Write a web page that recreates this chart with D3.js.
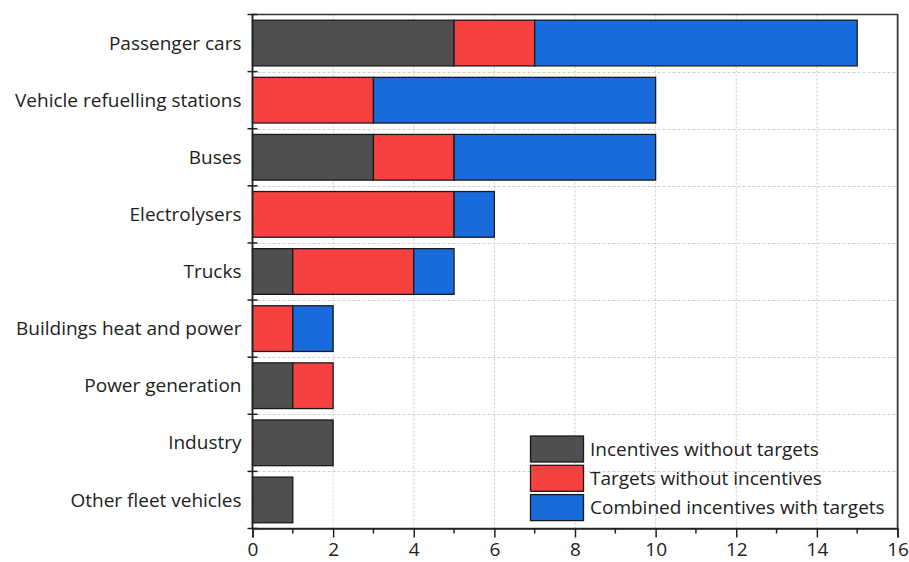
<!DOCTYPE html>
<html><head><meta charset="utf-8">
<script src="https://cdn.jsdelivr.net/npm/d3@7"></script>
<style>body{margin:0;background:#fff}svg{display:block}</style>
</head><body>
<svg id="c" width="909" height="562"></svg>
<script>
const categories = ["Passenger cars","Vehicle refuelling stations","Buses","Electrolysers","Trucks","Buildings heat and power","Power generation","Industry","Other fleet vehicles"];
const incentivesWithoutTargets = [5,0,3,0,1,0,1,2,1];
const targetsWithoutIncentives = [2,3,2,5,3,1,1,0,0];
const combinedIncentivesWithTargets = [8,7,5,1,1,1,0,0,0];
const seriesNames = ["Incentives without targets","Targets without incentives","Combined incentives with targets"];
const xTicks = [0,2,4,6,8,10,12,14,16];
const colors = ["#4f4f4f","#f74141","#196bdb"];

const svg = d3.select("#c");
const L=252.5, R=897.5, T=14.5, B=528.5;
const font = "'Open Sans', sans-serif";
const x = d3.scaleLinear().domain([0,16]).range([L,R]);
const y = d3.scaleBand().domain(categories).range([T,B]).paddingInner(0.2).paddingOuter(0.1);
const step = y.step();

// grid
const g = svg.append("g");
g.selectAll("line.v").data(xTicks.slice(1,-1)).join("line")
 .attr("x1",d=>x(d)).attr("x2",d=>x(d)).attr("y1",T).attr("y2",B)
 .attr("stroke","#c8c8c8").attr("stroke-dasharray","2,2").attr("stroke-width",1);
g.selectAll("line.h").data(categories.slice(1)).join("line")
 .attr("x1",L).attr("x2",R).attr("y1",d=>Math.round(y(d)-step*0.1)+0.5).attr("y2",d=>Math.round(y(d)-step*0.1)+0.5)
 .attr("stroke","#d0d0d0").attr("stroke-dasharray","3,2").attr("stroke-width",1);

// stacked data
const rows = categories.map((c,i)=>({cat:c, s0:incentivesWithoutTargets[i], s1:targetsWithoutIncentives[i], s2:combinedIncentivesWithTargets[i]}));
const stack = d3.stack().keys(["s0","s1","s2"])(rows);
stack.forEach((layer,k)=>{
  svg.append("g").selectAll("rect").data(layer.filter(d=>d[1]>d[0])).join("rect")
   .attr("x",d=>x(d[0])).attr("width",d=>x(d[1])-x(d[0]))
   .attr("y",d=>y(d.data.cat)).attr("height",y.bandwidth())
   .attr("fill",colors[k]).attr("stroke","#1a1a1a").attr("stroke-width",1.3);
});

// frame
svg.append("rect").attr("x",L).attr("y",T).attr("width",R-L).attr("height",B-T)
 .attr("fill","none").attr("stroke","#333").attr("stroke-width",1.5);
svg.append("line").attr("x1",R+1).attr("x2",R+1).attr("y1",T).attr("y2",B).attr("stroke","#999").attr("stroke-width",1);

// x axis
const xa = svg.append("g").attr("transform",`translate(0,${B})`)
 .call(d3.axisBottom(x).tickValues(xTicks).tickSize(9).tickPadding(5).tickFormat(d3.format("d")));
xa.select(".domain").attr("stroke","#222").attr("stroke-width",1.5);
xa.selectAll(".tick line").attr("stroke","#222").attr("stroke-width",1.5);
xa.selectAll("text").attr("font-family",font).attr("font-size",19).attr("fill","#222");
const minor = d3.range(1,16,2);
svg.append("g").selectAll("line").data(minor).join("line")
 .attr("x1",d=>x(d)).attr("x2",d=>x(d)).attr("y1",B).attr("y2",B+5).attr("stroke","#222").attr("stroke-width",1.5);

// y axis ticks at boundaries
const bounds = d3.range(0,categories.length+1).map(i=>T+i*step);
svg.append("g").selectAll("line").data(bounds).join("line")
 .attr("x1",L-5).attr("x2",L+5).attr("y1",d=>d).attr("y2",d=>d).attr("stroke","#222").attr("stroke-width",1.5);
svg.append("line").attr("x1",L).attr("x2",L).attr("y1",T).attr("y2",B).attr("stroke","#222").attr("stroke-width",1.5);
svg.append("g").selectAll("text").data(categories).join("text")
 .attr("x",L-11).attr("y",d=>y(d)+y.bandwidth()/2).attr("dy","0.35em")
 .attr("text-anchor","end").attr("font-family",font).attr("font-size",19).attr("fill","#222").text(d=>d);

// legend
const lg = svg.append("g");
seriesNames.forEach((n,i)=>{
  const yy = 436 + i*29.3;
  lg.append("rect").attr("x",530.5).attr("y",yy).attr("width",53).attr("height",26)
   .attr("fill",colors[i]).attr("stroke","#1a1a1a").attr("stroke-width",1.3);
  lg.append("text").attr("x",590).attr("y",yy+13).attr("dy","0.35em")
   .attr("font-family",font).attr("font-size",19).attr("fill","#222").text(n);
});
</script>
</body></html>
